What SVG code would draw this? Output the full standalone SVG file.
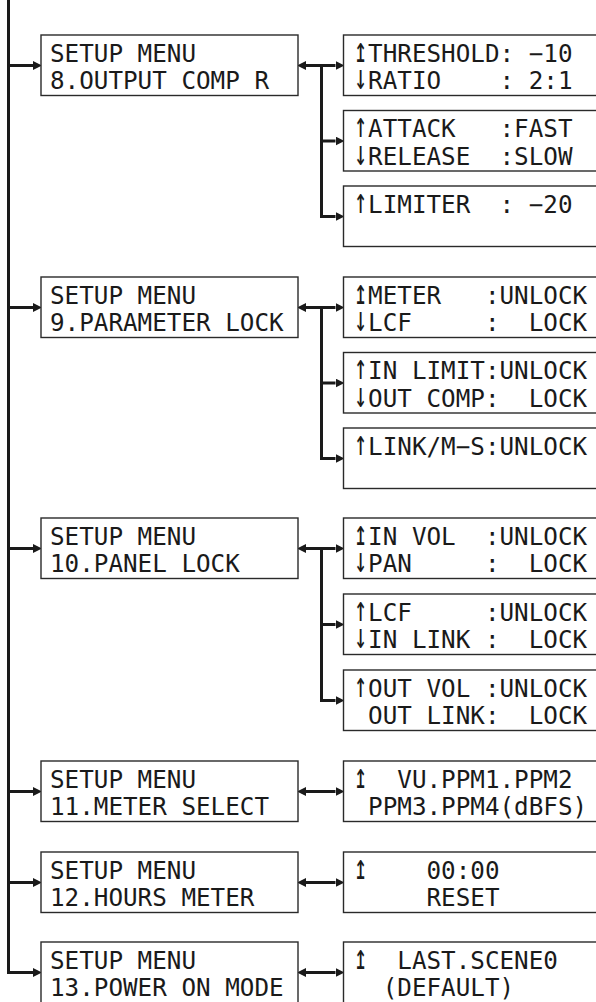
<svg xmlns="http://www.w3.org/2000/svg" width="596" height="1002" viewBox="0 0 596 1002" xml:space="preserve">
<defs>
<marker id="ah" markerUnits="userSpaceOnUse" markerWidth="9" markerHeight="9" refX="0" refY="4" orient="auto-start-reverse" viewBox="0 0 8 8"><path d="M0,0 L8,4 L0,8 Z" fill="#1a1a1a"/></marker>
</defs>
<style>
.box{fill:#fff;stroke:#2a2a2a;stroke-width:1.4}
.t{font-family:"DejaVu Sans Mono",monospace;font-size:24.25px;fill:#1a1a1a;white-space:pre}
.ar{font-family:"DejaVu Sans Mono","DejaVu Sans",sans-serif;font-size:22px;fill:#1a1a1a}
.ln{stroke:#1a1a1a;stroke-width:3;fill:none}
</style>
<g id="connectors">
<path class="ln" d="M8.5,0 V972.5 H33" marker-end="url(#ah)"/>
<line class="ln" x1="8.5" y1="65.5" x2="33" y2="65.5" marker-end="url(#ah)"/>
<line class="ln" x1="8.5" y1="307.5" x2="33" y2="307.5" marker-end="url(#ah)"/>
<line class="ln" x1="8.5" y1="548.5" x2="33" y2="548.5" marker-end="url(#ah)"/>
<line class="ln" x1="8.5" y1="791.5" x2="33" y2="791.5" marker-end="url(#ah)"/>
<line class="ln" x1="8.5" y1="882.5" x2="33" y2="882.5" marker-end="url(#ah)"/>
<line class="ln" x1="306" y1="65.5" x2="335.5" y2="65.5" marker-start="url(#ah)" marker-end="url(#ah)"/>
<path class="ln" d="M321.5,65.5 V216.5 H335.5" marker-end="url(#ah)"/>
<line class="ln" x1="321.5" y1="141" x2="335.5" y2="141" marker-end="url(#ah)"/>
<line class="ln" x1="306" y1="307.5" x2="335.5" y2="307.5" marker-start="url(#ah)" marker-end="url(#ah)"/>
<path class="ln" d="M321.5,307.5 V458.5 H335.5" marker-end="url(#ah)"/>
<line class="ln" x1="321.5" y1="383" x2="335.5" y2="383" marker-end="url(#ah)"/>
<line class="ln" x1="306" y1="548.5" x2="335.5" y2="548.5" marker-start="url(#ah)" marker-end="url(#ah)"/>
<path class="ln" d="M321.5,548.5 V700.5 H335.5" marker-end="url(#ah)"/>
<line class="ln" x1="321.5" y1="624.5" x2="335.5" y2="624.5" marker-end="url(#ah)"/>
<line class="ln" x1="306" y1="791.5" x2="335.5" y2="791.5" marker-start="url(#ah)" marker-end="url(#ah)"/>
<line class="ln" x1="306" y1="882.5" x2="335.5" y2="882.5" marker-start="url(#ah)" marker-end="url(#ah)"/>
<line class="ln" x1="306" y1="972.5" x2="335.5" y2="972.5" marker-start="url(#ah)" marker-end="url(#ah)"/>
</g>
<g id="menu8"><rect class="box" x="41" y="35" width="257" height="60.5"/><text class="t" x="50" y="61.5">SETUP MENU</text><text class="t" x="50" y="89">8.OUTPUT COMP R</text></g>
<g id="m8a"><rect class="box" x="343.5" y="35" width="270" height="60.5"/><text class="ar" transform="translate(354,61.5) scale(1,1.6)">↥</text><text class="t" x="368.1" y="61.5">THRESHOLD: −10</text><text class="ar" transform="translate(354,89) scale(1,1.6)">↓</text><text class="t" x="368.1" y="89">RATIO    : 2:1</text></g>
<g id="m8b"><rect class="box" x="343.5" y="110.5" width="270" height="60.5"/><text class="ar" transform="translate(354,137) scale(1,1.6)">↑</text><text class="t" x="368.1" y="137">ATTACK   :FAST</text><text class="ar" transform="translate(354,164.5) scale(1,1.6)">↓</text><text class="t" x="368.1" y="164.5">RELEASE  :SLOW</text></g>
<g id="m8c"><rect class="box" x="343.5" y="186" width="270" height="60.5"/><text class="ar" transform="translate(354,212.5) scale(1,1.6)">↑</text><text class="t" x="368.1" y="212.5">LIMITER  : −20</text></g>
<g id="menu9"><rect class="box" x="41" y="277" width="257" height="60.5"/><text class="t" x="50" y="303.5">SETUP MENU</text><text class="t" x="50" y="331">9.PARAMETER LOCK</text></g>
<g id="m9a"><rect class="box" x="343.5" y="277" width="270" height="60.5"/><text class="ar" transform="translate(354,303.5) scale(1,1.6)">↥</text><text class="t" x="368.1" y="303.5">METER   :UNLOCK</text><text class="ar" transform="translate(354,331) scale(1,1.6)">↓</text><text class="t" x="368.1" y="331">LCF     :  LOCK</text></g>
<g id="m9b"><rect class="box" x="343.5" y="352.5" width="270" height="60.5"/><text class="ar" transform="translate(354,379) scale(1,1.6)">↑</text><text class="t" x="368.1" y="379">IN LIMIT:UNLOCK</text><text class="ar" transform="translate(354,406.5) scale(1,1.6)">↓</text><text class="t" x="368.1" y="406.5">OUT COMP:  LOCK</text></g>
<g id="m9c"><rect class="box" x="343.5" y="428" width="270" height="60.5"/><text class="ar" transform="translate(354,454.5) scale(1,1.6)">↑</text><text class="t" x="368.1" y="454.5">LINK/M−S:UNLOCK</text></g>
<g id="menu10"><rect class="box" x="41" y="518" width="257" height="60.5"/><text class="t" x="50" y="544.5">SETUP MENU</text><text class="t" x="50" y="572">10.PANEL LOCK</text></g>
<g id="m10a"><rect class="box" x="343.5" y="518" width="270" height="60.5"/><text class="ar" transform="translate(354,544.5) scale(1,1.6)">↥</text><text class="t" x="368.1" y="544.5">IN VOL  :UNLOCK</text><text class="ar" transform="translate(354,572) scale(1,1.6)">↓</text><text class="t" x="368.1" y="572">PAN     :  LOCK</text></g>
<g id="m10b"><rect class="box" x="343.5" y="594" width="270" height="60.5"/><text class="ar" transform="translate(354,620.5) scale(1,1.6)">↑</text><text class="t" x="368.1" y="620.5">LCF     :UNLOCK</text><text class="ar" transform="translate(354,648) scale(1,1.6)">↓</text><text class="t" x="368.1" y="648">IN LINK :  LOCK</text></g>
<g id="m10c"><rect class="box" x="343.5" y="670" width="270" height="60.5"/><text class="ar" transform="translate(354,696.5) scale(1,1.6)">↑</text><text class="t" x="368.1" y="696.5">OUT VOL :UNLOCK</text><text class="t" x="368.1" y="724">OUT LINK:  LOCK</text></g>
<g id="menu11"><rect class="box" x="41" y="761" width="257" height="60.5"/><text class="t" x="50" y="787.5">SETUP MENU</text><text class="t" x="50" y="815">11.METER SELECT</text></g>
<g id="m11a"><rect class="box" x="343.5" y="761" width="270" height="60.5"/><text class="ar" transform="translate(354,787.5) scale(1,1.6)">↥</text><text class="t" x="397.3" y="787.5">VU.PPM1.PPM2</text><text class="t" x="368.1" y="815">PPM3.PPM4(dBFS)</text></g>
<g id="menu12"><rect class="box" x="41" y="852" width="257" height="60.5"/><text class="t" x="50" y="878.5">SETUP MENU</text><text class="t" x="50" y="906">12.HOURS METER</text></g>
<g id="m12a"><rect class="box" x="343.5" y="852" width="270" height="60.5"/><text class="ar" transform="translate(354,878.5) scale(1,1.6)">↥</text><text class="t" x="426.5" y="878.5">00:00</text><text class="t" x="426.5" y="906">RESET</text></g>
<g id="menu13"><rect class="box" x="41" y="942" width="257" height="62"/><text class="t" x="50" y="968.5">SETUP MENU</text><text class="t" x="50" y="996">13.POWER ON MODE</text></g>
<g id="m13a"><rect class="box" x="343.5" y="942" width="270" height="62"/><text class="ar" transform="translate(354,968.5) scale(1,1.6)">↥</text><text class="t" x="397.3" y="968.5">LAST.SCENE0</text><text class="t" x="382.7" y="996">(DEFAULT)</text></g>
</svg>
